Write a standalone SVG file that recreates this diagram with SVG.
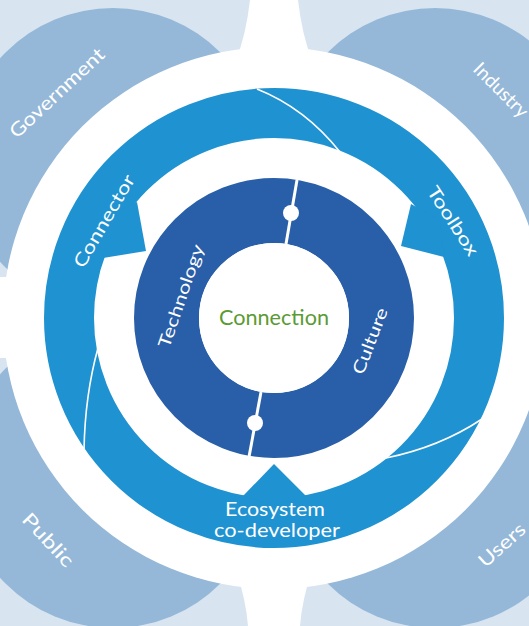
<svg xmlns="http://www.w3.org/2000/svg" width="529" height="626" viewBox="0 0 529 626">
<style>
.petal{fill:#95b8d8}
.lbl{font-family:Lato,"Noto Sans","DejaVu Sans",sans-serif;fill:#ffffff;text-anchor:middle}
.thin{fill:none;stroke:#ffffff;stroke-width:1.6}
.sep{stroke:#ffffff;stroke-width:3;fill:none}
</style>
<rect x="0" y="0" width="529" height="626" fill="#d8e5f1"/>
<g id="petals">
<circle id="government-petal" class="petal" cx="113" cy="160" r="152"/>
<circle id="industry-petal" class="petal" cx="435" cy="160" r="152"/>
<circle id="public-petal" class="petal" cx="113" cy="476" r="152"/>
<circle id="users-petal" class="petal" cx="435" cy="476" r="152"/>
</g>
<g id="white-base" fill="#ffffff">
<circle cx="274" cy="318" r="271"/>
<path d="M250,0 L298,0 Q302,35 312,60 L236,60 Q246,35 250,0 Z"/>
<path d="M248,626 L300,626 Q302,600 312,570 L236,570 Q246,600 248,626 Z"/>
<rect x="-5" y="277" width="30" height="81"/>
</g>
<g id="labels-outer">
<text class="lbl" font-size="19" transform="translate(57,93) rotate(-43)" y="6.5" textLength="122" lengthAdjust="spacingAndGlyphs">Government</text>
<text class="lbl" font-size="19" transform="translate(501,90) rotate(45)" y="6.5">Industry</text>
<text class="lbl" font-size="19" transform="translate(48,540) rotate(47)" y="6.5" textLength="66" lengthAdjust="spacingAndGlyphs">Public</text>
<text class="lbl" font-size="19" transform="translate(502,545) rotate(-42)" y="6.5" textLength="56" lengthAdjust="spacingAndGlyphs">Users</text>
</g>
<g id="connectors">
<circle cx="274" cy="318" r="205" fill="none" stroke="#1f92d1" stroke-width="50"/>
<polygon id="connector-head" points="103,258 146,251 137,202 110,215" fill="#1f92d1"/>
<polygon id="toolbox-head" points="444,257 401,246 411,204 440,220" fill="#1f92d1"/>
<polygon id="ecosystem-head" points="243,496 274,464 306,496 274,505" fill="#1f92d1"/>
<path class="thin" d="M257,89 Q305,108 340,152"/>
<path class="thin" d="M98,348 Q85,395 84,450"/>
<path class="thin" d="M386,458 Q440,447 482,419"/>
</g>
<g id="connector-node">
<text class="lbl" font-size="18" transform="translate(104,221) rotate(-60)" y="6.3" textLength="104" lengthAdjust="spacingAndGlyphs">Connector</text>
</g>
<g id="toolbox-node">
<text class="lbl" font-size="18" transform="translate(453,221) rotate(57)" y="6.3" textLength="79" lengthAdjust="spacingAndGlyphs">Toolbox</text>
</g>
<g id="ecosystem-node">
<text class="lbl" font-size="19" x="275" y="516" textLength="100" lengthAdjust="spacingAndGlyphs">Ecosystem</text>
<text class="lbl" font-size="19" x="277" y="537" textLength="126" lengthAdjust="spacingAndGlyphs">co-developer</text>
</g>
<g id="inner-ring">
<circle cx="274" cy="318" r="107.5" fill="none" stroke="#295ea9" stroke-width="65"/>
<line class="sep" x1="297" y1="180" x2="286" y2="244"/>
<circle cx="291" cy="213" r="8" fill="#ffffff"/>
<line class="sep" x1="261" y1="392" x2="249" y2="457"/>
<circle cx="255" cy="423" r="8" fill="#ffffff"/>
</g>
<g id="technology-node">
<text class="lbl" font-size="17" transform="translate(181,296) rotate(-71)" y="6" textLength="108" lengthAdjust="spacingAndGlyphs">Technology</text>
</g>
<g id="culture-node">
<text class="lbl" font-size="17" transform="translate(370,341) rotate(-69)" y="6" textLength="70" lengthAdjust="spacingAndGlyphs">Culture</text>
</g>
<g id="connection-node">
<circle cx="274" cy="318" r="75" fill="#ffffff"/>
<text font-family="Lato,'Noto Sans','DejaVu Sans',sans-serif" font-size="21" fill="#5b9a34" text-anchor="middle" x="274" y="325" textLength="110" lengthAdjust="spacingAndGlyphs">Connection</text>
</g>
</svg>
